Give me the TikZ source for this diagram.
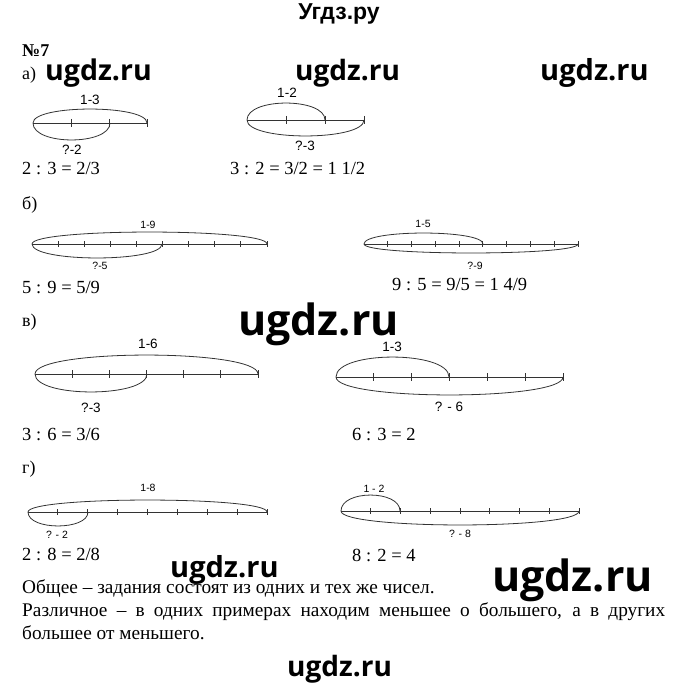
\documentclass[tikz,border=0pt]{standalone}
\usepackage{fontspec}
\setmainfont{Liberation Serif}
\newfontfamily\lsans{Liberation Sans}
\newfontfamily\wmfont{Open Sans}
\tikzset{
  seg/.style={draw=black!80, line width=0.8pt},
  lbl/.style={font=\lsans\fontsize{13.5}{15}\selectfont, inner sep=0pt, anchor=center},
  slbl/.style={font=\lsans\fontsize{10.5}{12}\selectfont, inner sep=0pt, anchor=center},
  eq/.style={font=\fontsize{18.5}{22}\selectfont, inner sep=0pt, anchor=base west},
  txt/.style={font=\fontsize{18}{22}\selectfont, inner sep=0pt, anchor=base west},
  btxt/.style={font=\fontsize{19.3}{22}\selectfont, inner sep=0pt, anchor=base west},
  wm/.style={inner sep=0pt, anchor=base west},
}
% arc from x1 to x2 on line y, height h (positive = above)
\newcommand\barc[4]{%
  \draw[seg] (#1,#3) .. controls ({#1},{#3-1.33*(#4)}) and ({#2},{#3-1.33*(#4)}) .. (#2,#3);}
% number line x1..x2 at y, n parts, tick half-length t
\newcommand\nline[5]{%
  \draw[seg] (#1,#3) -- (#2,#3);
  \foreach \i in {1,...,#4} \draw[seg] ({#1+(#2-#1)*\i/#4},{#3-#5}) -- ++(0,{2*#5});}
\begin{document}
\begin{tikzpicture}[x=1pt,y=-1pt]
\useasboundingbox (0,0) rectangle (680,695);
% title
\node[inner sep=0pt, anchor=base, font=\lsans\bfseries\fontsize{23}{25}\selectfont] (title) at (339,20) {Угдз.ру};
\node[txt, font=\bfseries\fontsize{18}{22}\selectfont] (num) at (22,57) {№7};
% watermarks
\node[wm, font=\wmfont\bfseries\fontsize{28.5}{30}\selectfont] (w1) at (45,81) {ugdz.ru};
\node[wm, font=\wmfont\bfseries\fontsize{28}{30}\selectfont] (w2) at (295,81) {ugdz.ru};
\node[wm, font=\wmfont\bfseries\fontsize{29}{30}\selectfont] (w3) at (540,81) {ugdz.ru};
\node[wm, font=\wmfont\bfseries\fontsize{43}{45}\selectfont] (w4) at (238,335) {ugdz.ru};
\node[wm, font=\wmfont\bfseries\fontsize{29}{30}\selectfont] (w5) at (170,577) {ugdz.ru};
\node[wm, font=\wmfont\bfseries\fontsize{43}{45}\selectfont] (w6) at (492,591) {ugdz.ru};
\node[wm, font=\wmfont\bfseries\fontsize{28}{30}\selectfont] (w7) at (287,676) {ugdz.ru};
% a)
\node[txt] (la) at (22,80) {а)};
\nline{33}{147}{123}{3}{4}
\barc{33}{147}{123}{14}
\barc{33}{110}{123}{-17}
\node[lbl] (a1t) at (90,100) {1-3};
\node[lbl] (a1b) at (72,150) {?-2};
\node[eq] (a1e) at (22,175) {2 : 3 = 2/3};
\nline{247}{364}{120}{3}{4}
\barc{247}{325}{120}{17}
\barc{247}{364}{120}{-16}
\node[lbl] (a2t) at (287,93) {1-2};
\node[lbl] (a2b) at (305,146) {?-3};
\node[eq] (a2e) at (230,175) {3 : 2 = 3/2 = 1 1/2};
% b)
\node[txt] (lb) at (22,209) {б)};
\nline{32}{267}{244}{9}{3}
\barc{32}{267}{244}{12}
\barc{32}{162}{244}{-14}
\node[slbl] (b1t) at (148,225) {1-9};
\node[slbl] (b1b) at (100,266) {?-5};
\node[eq] (b1e) at (22,293) {5 : 9 = 5/9};
\nline{364}{578}{244}{9}{3}
\barc{364}{483}{244}{11}
\barc{364}{578}{244}{-9}
\node[slbl] (b2t) at (423,224) {1-5};
\node[slbl] (b2b) at (475,266) {?-9};
\node[eq] (b2e) at (392,290) {9 : 5 = 9/5 = 1 4/9};
% v)
\node[txt] (lv) at (22,326) {в)};
\nline{35}{258}{374}{6}{4}
\barc{35}{258}{374}{19}
\barc{35}{147}{374}{-18}
\node[lbl] (v1t) at (148,344) {1-6};
\node[lbl] (v1b) at (91,408) {?-3};
\node[eq] (v1e) at (22,440) {3 : 6 = 3/6};
\nline{336}{563}{377}{6}{4}
\barc{336}{449}{377}{20}
\barc{336}{563}{377}{-18}
\node[lbl] (v2t) at (392,347) {1-3};
\node[lbl] (v2b) at (449,407) {? - 6};
\node[eq] (v2e) at (352,440) {6 : 3 = 2};
% g)
\node[txt] (lg) at (22,473) {г)};
\nline{28}{267}{512}{8}{3}
\barc{28}{267}{512}{12}
\barc{28}{88}{512}{-14}
\node[slbl] (g1t) at (148,488) {1-8};
\node[slbl] (g1b) at (57,535) {? - 2};
\node[eq] (g1e) at (22,560) {2 : 8 = 2/8};
\nline{341}{579}{511}{8}{3}
\barc{341}{400}{511}{16}
\barc{341}{579}{511}{-14}
\node[slbl] (g2t) at (374,489) {1 - 2};
\node[slbl] (g2b) at (460,534) {? - 8};
\node[eq] (g2e) at (352,561) {8 : 2 = 4};
% conclusion
\node[btxt] (t1) at (22,593) {Общее – задания состоят из одних и тех же чисел.};
\node[btxt] (t2) at (22,616) {\makebox[643pt][s]{Различное – в одних примерах находим меньшее о большего, а в других}};
\node[btxt] (t3) at (22,639) {большее от меньшего.};
\end{tikzpicture}
\end{document}
